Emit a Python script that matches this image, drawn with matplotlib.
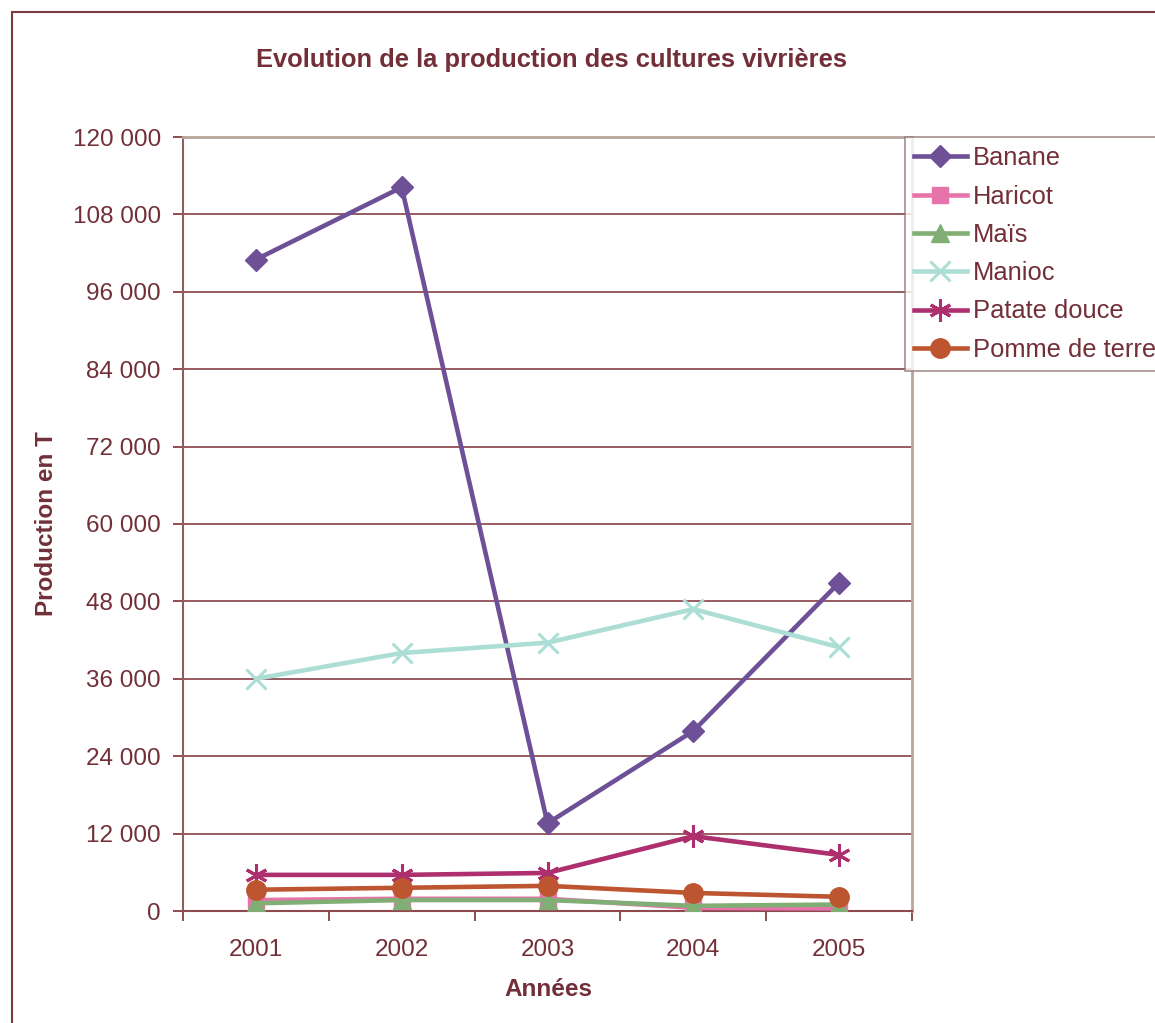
import matplotlib
matplotlib.use("Agg")
import matplotlib.pyplot as plt
from matplotlib.patches import Rectangle
from matplotlib.ticker import FixedLocator, NullFormatter

plt.rcParams['font.family'] = ['Liberation Sans', 'DejaVu Sans']

years = ["2001", "2002", "2003", "2004", "2005"]
series_names = ["Banane", "Haricot", "Maïs", "Manioc", "Patate douce", "Pomme de terre"]
banane = [101000, 112200, 13600, 27900, 50900]
haricot = [1700, 1900, 1900, 500, 400]
mais = [1200, 1700, 1700, 800, 1000]
manioc = [36000, 40000, 41600, 46800, 40900]
patate_douce = [5600, 5600, 5900, 11600, 8700]
pomme_de_terre = [3300, 3600, 3900, 2800, 2200]
yticks = [0, 12000, 24000, 36000, 48000, 60000, 72000, 84000, 96000, 108000, 120000]
ytick_labels = ["0", "12 000", "24 000", "36 000", "48 000", "60 000", "72 000",
                "84 000", "96 000", "108 000", "120 000"]

values = [banane, haricot, mais, manioc, patate_douce, pomme_de_terre]
colors = ["#6E5097", "#E674AA", "#80AE74", "#ADDED6", "#AE2F6E", "#BD5530"]
markers = ["D", "s", "^", "x", "*", "o"]
msizes = [11, 11, 13, 14, 16, 14]

txt = "#722F37"
fs = 17.5
fs_big = 18.4

fig = plt.figure(figsize=(11.55, 10.23), dpi=100)
ax = fig.add_axes([183/1155, 1-911/1023, (912-183)/1155, (911-137)/1023])

xpos = [i + 0.5 for i in range(len(years))]
for name, vals, c, m, ms in zip(series_names, values, colors, markers, msizes):
    if m == "x":
        ax.plot(xpos, vals, color=c, lw=3.3, marker="x", markersize=ms, markeredgewidth=2.2,
                label=name, zorder=3)
    elif m == "*":
        ax.plot(xpos, vals, color=c, lw=3.3, marker=(6, 2, 0), markersize=ms, markeredgewidth=2.2,
                markeredgecolor=c, label=name, zorder=3)
    else:
        ax.plot(xpos, vals, color=c, lw=3.3, marker=m, markersize=ms, markeredgecolor=c,
                label=name, zorder=3)

ax.set_xlim(0, 5)
ax.set_ylim(0, 120000)
ax.set_yticks(yticks)
ax.set_yticklabels(ytick_labels)
ax.yaxis.grid(True, color="#7B2F35", lw=1.1)
ax.set_axisbelow(True)

ax.xaxis.set_major_locator(FixedLocator([0, 1, 2, 3, 4, 5]))
ax.xaxis.set_major_formatter(NullFormatter())
ax.xaxis.set_minor_locator(FixedLocator(xpos))
ax.set_xticklabels(years, minor=True)
ax.tick_params(axis="x", which="major", direction="out", length=7, width=1.2, color="#7B3035")
ax.tick_params(axis="x", which="minor", length=0, pad=20, labelsize=fs, labelcolor=txt)
ax.tick_params(axis="y", direction="out", length=7, width=1.2, color="#7B3035", pad=9,
               labelsize=fs, labelcolor=txt)

ax.spines["left"].set_color("#8E5E5E")
ax.spines["left"].set_linewidth(1.5)
ax.spines["bottom"].set_color("#8E4A4E")
ax.spines["bottom"].set_linewidth(1.5)
ax.spines["top"].set_color("#B8A59C")
ax.spines["top"].set_linewidth(2)
ax.spines["right"].set_color("#B8A59C")
ax.spines["right"].set_linewidth(2)

fig.text(551/1155, 1-60/1023, "Evolution de la production des cultures vivrières",
         ha="center", va="center", fontsize=fs_big, fontweight="bold", color=txt)
fig.text(47/1155, 1-524/1023, "Production en T", rotation=90, ha="center", va="center",
         fontsize=fs, fontweight="bold", color=txt)
fig.text(548/1155, 1-990/1023, "Années", ha="center", va="center",
         fontsize=fs, fontweight="bold", color=txt)

leg = fig.legend(loc="upper left", bbox_to_anchor=(905/1155, 1-137/1023), frameon=True,
                 fontsize=fs_big, handlelength=2.05, handletextpad=0.25, labelspacing=0.56,
                 borderpad=0.36, borderaxespad=0, fancybox=False, labelcolor=txt)
leg.get_frame().set_edgecolor("#8E7470")
leg.get_frame().set_linewidth(1.2)

fig.patches.append(Rectangle((12/1155, -0.1), 1.2, 1 - 12/1023 + 0.1, transform=fig.transFigure,
                             fill=False, edgecolor="#7B3A3E", lw=1.5, zorder=0))

fig.savefig("out.png", dpi=100)
